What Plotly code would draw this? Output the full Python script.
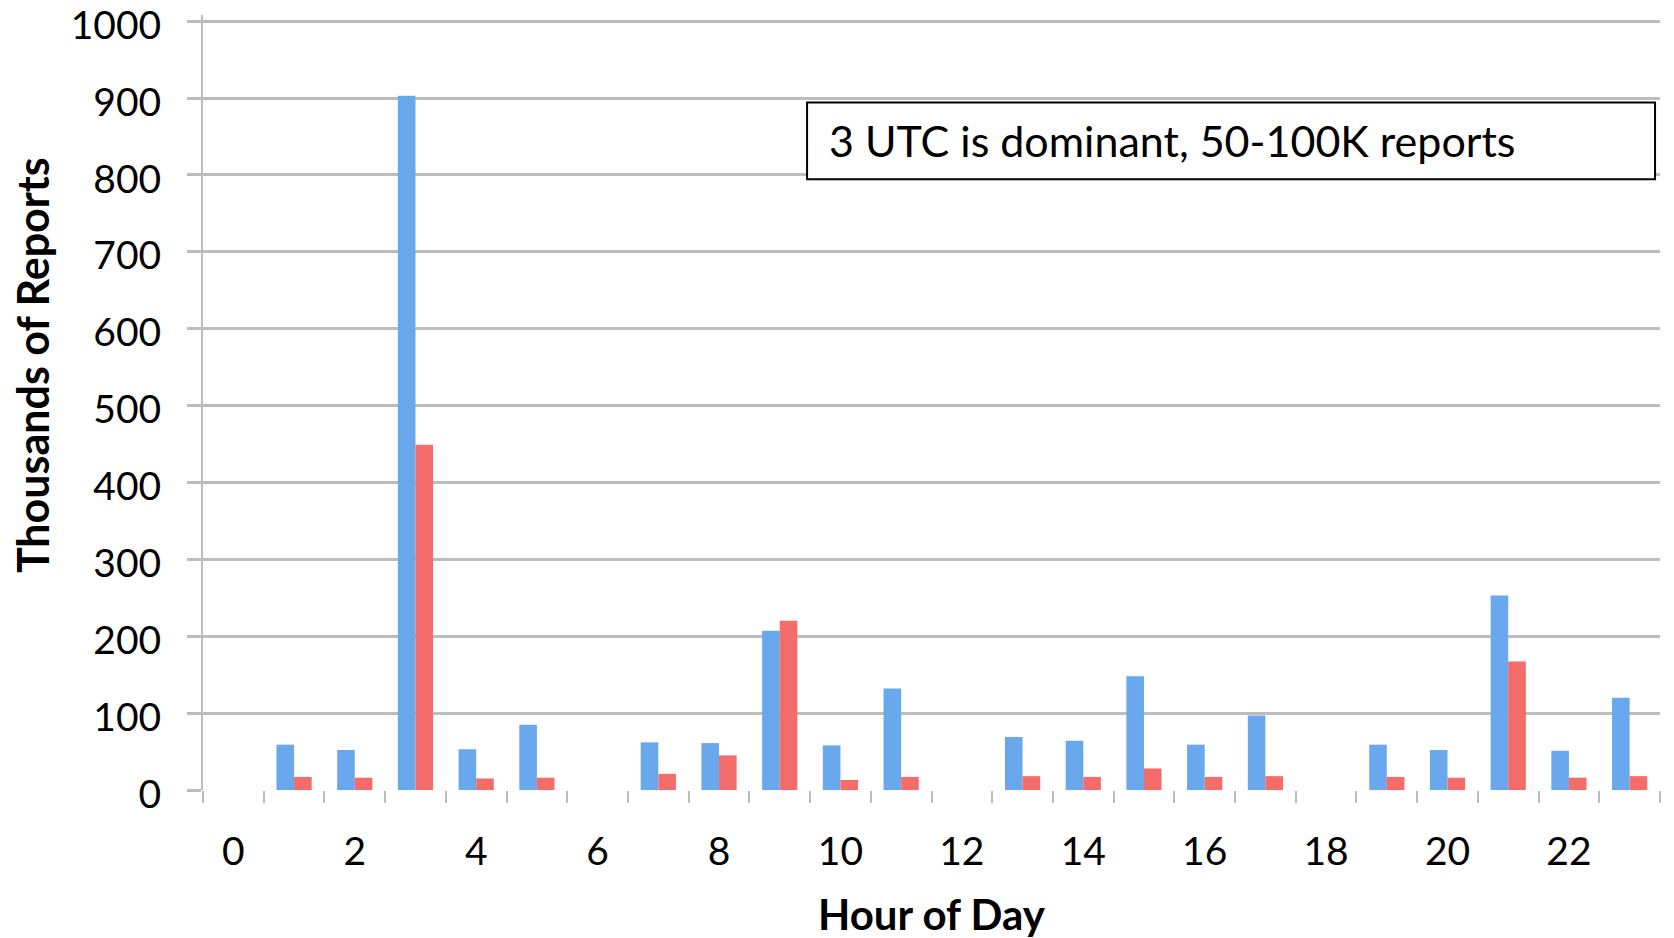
import plotly.graph_objects as go

hours = list(range(24))
blue_vals = [0, 59, 52, 903, 53, 85, 0, 62, 61, 207, 58, 132, 0, 69, 64, 148, 59, 97, 0, 59, 52, 253, 51, 120]
red_vals = [0, 17, 16, 449, 15, 16, 0, 21, 45, 220, 13, 17, 0, 18, 17, 28, 17, 18, 0, 17, 16, 167, 16, 18]
x_tick_vals = list(range(0, 24, 2))
y_tick_vals = list(range(0, 1001, 100))
boundaries = [h - 0.5 for h in range(25)]

FONT = "Lato"
GRID = "#bdbdbd"

fig = go.Figure()
fig.add_trace(go.Bar(x=hours, y=blue_vals, name="Blue", marker=dict(color="#6aa8ee", line=dict(width=0))))
fig.add_trace(go.Bar(x=hours, y=red_vals, name="Red", marker=dict(color="#f46d6a", line=dict(width=0))))

fig.update_layout(
    width=1674, height=938,
    margin=dict(l=203, r=14, t=15, b=148, autoexpand=False),
    paper_bgcolor="white", plot_bgcolor="white",
    barmode="group", bargap=0.42, bargroupgap=0,
    showlegend=False,
    font=dict(family=FONT, color="black"),
)
fig.update_xaxes(
    automargin=False,
    range=[-0.5, 23.5], tickmode="array", tickvals=x_tick_vals,
    ticktext=[str(v) for v in x_tick_vals],
    ticks="", showgrid=False, zeroline=False,
    showline=False,
    tickfont=dict(family=FONT, size=39, color="black"),
    ticklabelstandoff=35,
    minor=dict(tickvals=boundaries, ticks="outside", ticklen=12, tickwidth=2, tickcolor=GRID, showgrid=False),
)
fig.update_yaxes(
    automargin=False,
    range=[0, 1008], tickmode="array", tickvals=y_tick_vals,
    ticks="outside", ticklen=14, tickwidth=2.5, tickcolor=GRID,
    showgrid=True, gridcolor=GRID, gridwidth=2.5,
    zeroline=False, showline=True, linecolor=GRID, linewidth=2,
    tickfont=dict(family=FONT, size=39, color="black"),
    ticklabelstandoff=18, ticklabelshift=4, ticklabeloverflow="allow",
)

# y-axis title
fig.add_annotation(
    text="<b>Thousands of Reports</b>", xref="paper", yref="paper",
    x=-0.1175, y=0.548, textangle=-90, showarrow=False,
    font=dict(family=FONT, size=43, color="black"), xanchor="center", yanchor="middle",
)
# x-axis title
fig.add_annotation(
    text="<b>Hour of Day</b>", xref="paper", yref="paper",
    x=0.5, y=-0.16, showarrow=False,
    font=dict(family=FONT, size=42, color="black"), xanchor="center", yanchor="middle",
)
# callout box
fig.add_shape(
    type="rect", xref="paper", yref="paper",
    x0=0.4146, x1=0.9966, y0=0.788, y1=0.887,
    line=dict(color="black", width=2), fillcolor="white", layer="above",
)
fig.add_annotation(
    text="3 UTC is dominant, 50-100K reports", xref="paper", yref="paper",
    x=0.4283, y=0.838, showarrow=False, xanchor="left", yanchor="middle",
    font=dict(family=FONT, size=43, color="black"),
)

fig.write_html("out.html")
